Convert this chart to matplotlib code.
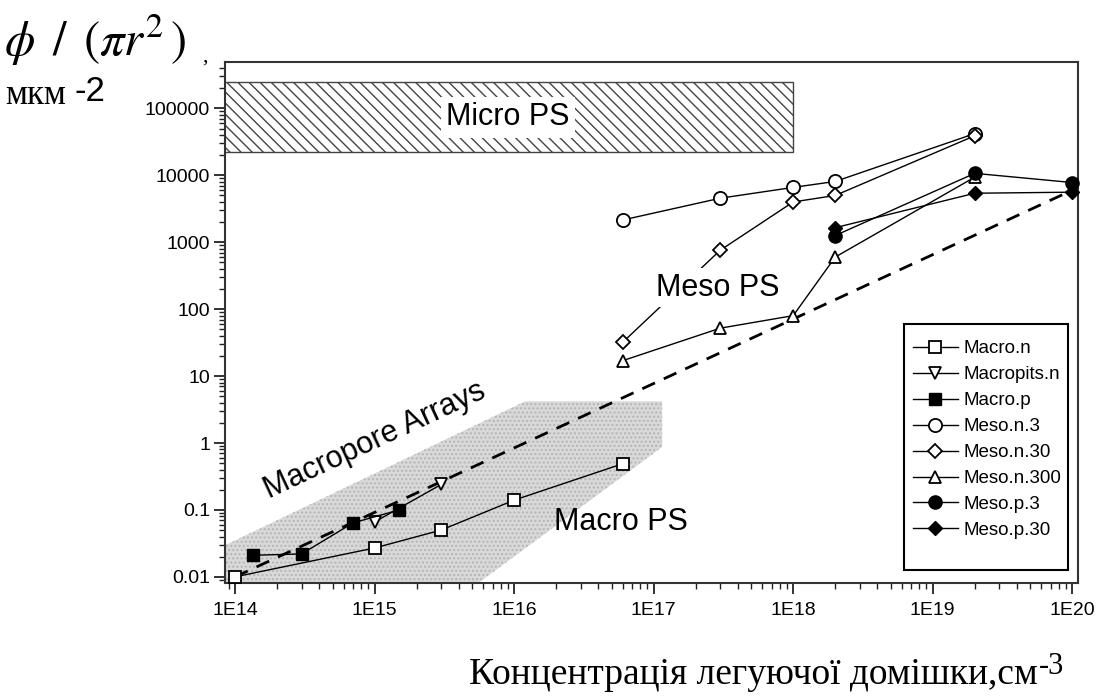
import matplotlib
matplotlib.use('Agg')
import matplotlib.pyplot as plt
from matplotlib.patches import Polygon, Rectangle
from matplotlib.ticker import FixedLocator, FixedFormatter, LogLocator, NullFormatter

plt.rcParams['font.family'] = ['Liberation Sans', 'DejaVu Sans']
plt.rcParams['mathtext.fontset'] = 'stix'
plt.rcParams['hatch.linewidth'] = 1.0

# pore density (um^-2) against doping concentration (cm^-3)
macro_n_x = [1e14, 1e15, 3e15, 1e16, 6e16]
macro_n_y = [0.01, 0.027, 0.05, 0.14, 0.49]
macropits_n_x = [1e15, 3e15]
macropits_n_y = [0.066, 0.24]
macro_p_x = [1.35e14, 3e14, 7e14, 1.5e15]
macro_p_y = [0.021, 0.022, 0.064, 0.1]
meso_n3_x = [6e16, 3e17, 1e18, 2e18, 2e19]
meso_n3_y = [2150, 4550, 6600, 8100, 42000]
meso_n30_x = [6e16, 3e17, 1e18, 2e18, 2e19]
meso_n30_y = [32, 760, 4000, 5000, 39000]
meso_n300_x = [6e16, 3e17, 1e18, 2e18, 2e19]
meso_n300_y = [17, 52, 80, 600, 9400]
meso_p3_x = [2e18, 2e19, 1e20]
meso_p3_y = [1260, 10700, 7800]
meso_p30_x = [2e18, 2e19, 1e20]
meso_p30_y = [1650, 5400, 5600]

# trend line and shaded regions
trend_x = [1e14, 1e20]
trend_y = [0.01, 6000]
band_x = [8e13, 1.2e16, 1.15e17, 1.15e17, 5.5e15, 8e13]
band_y = [0.028, 4.2, 4.2, 0.87, 0.008, 0.008]
micro_x = [8e13, 1e18]
micro_y = [2.2e4, 2.5e5]

x_ticks = [1e14, 1e15, 1e16, 1e17, 1e18, 1e19, 1e20]
x_labels = ['1E14', '1E15', '1E16', '1E17', '1E18', '1E19', '1E20']
y_ticks = [0.01, 0.1, 1, 10, 100, 1000, 10000, 100000]
y_labels = ['0.01', '0.1', '1', '10', '100', '1000', '10000', '100000']

fig = plt.figure(figsize=(11.04, 6.99), dpi=100)
ax = fig.add_axes([0.204, 0.166, 0.772, 0.745])
ax.set_xscale('log')
ax.set_yscale('log')
ax.set_xlim(8.5e13, 1.09e20)
ax.set_ylim(0.0081, 4.9e5)

ax.add_patch(Polygon(list(zip(band_x, band_y)), closed=True, facecolor='#d9d9d9',
                     edgecolor='#b5b5b5', hatch='....', linewidth=0, zorder=0))
ax.add_patch(Rectangle((micro_x[0], micro_y[0]), micro_x[1] - micro_x[0], micro_y[1] - micro_y[0],
                       facecolor='white', edgecolor='#444444', hatch='\\\\\\', linewidth=1.0, zorder=1))

ax.plot(trend_x, trend_y, color='black', lw=2.0, dashes=(5, 3.5), zorder=2)

ms = 9
open_kw = dict(color='black', lw=1.0, markerfacecolor='white', markeredgecolor='black',
               markeredgewidth=1.3, zorder=3)
fill_kw = dict(color='black', lw=1.0, markerfacecolor='black', markeredgecolor='black', zorder=3)
ax.plot(macro_n_x, macro_n_y, marker='s', ms=ms, label='Macro.n', **open_kw)
ax.plot(macropits_n_x, macropits_n_y, marker='v', ms=ms, label='Macropits.n', **open_kw)
ax.plot(macro_p_x, macro_p_y, marker='s', ms=ms, label='Macro.p', **fill_kw)
ax.plot(meso_n3_x, meso_n3_y, marker='o', ms=ms + 0.5, label='Meso.n.3', **open_kw)
ax.plot(meso_n30_x, meso_n30_y, marker='D', ms=7, label='Meso.n.30', **open_kw)
ax.plot(meso_n300_x, meso_n300_y, marker='^', ms=ms, label='Meso.n.300', **open_kw)
ax.plot(meso_p3_x, meso_p3_y, marker='o', ms=ms + 0.5, label='Meso.p.3', clip_on=False, **fill_kw)
ax.plot(meso_p30_x, meso_p30_y, marker='D', ms=7, label='Meso.p.30', clip_on=False, **fill_kw)

# region labels
ax.text(9e15, 7.4e4, 'Micro PS', fontsize=22, ha='center', va='center', zorder=4,
        bbox=dict(facecolor='white', edgecolor='none', pad=4))
ax.text(2.9e17, 210, 'Meso PS', fontsize=22, ha='center', va='center', zorder=4,
        bbox=dict(facecolor='white', edgecolor='none', pad=3))
ax.text(1e15, 1.1, 'Macropore Arrays', fontsize=22, ha='center', va='center',
        rotation=25, rotation_mode='anchor', zorder=4)
ax.text(5.8e16, 0.065, 'Macro PS', fontsize=22, ha='center', va='center', zorder=4)

ax.xaxis.set_major_locator(FixedLocator(x_ticks))
ax.xaxis.set_major_formatter(FixedFormatter(x_labels))
ax.yaxis.set_major_locator(FixedLocator(y_ticks))
ax.yaxis.set_major_formatter(FixedFormatter(y_labels))
ax.xaxis.set_minor_locator(LogLocator(base=10, subs=range(2, 10), numticks=20))
ax.yaxis.set_minor_locator(LogLocator(base=10, subs=range(2, 10), numticks=20))
ax.xaxis.set_minor_formatter(NullFormatter())
ax.yaxis.set_minor_formatter(NullFormatter())
ax.tick_params(which='major', direction='out', length=8, width=1.3, labelsize=14, color='#222222')
ax.tick_params(which='minor', direction='out', length=4, width=1.0, color='#222222')
ax.tick_params(axis='x', pad=6)
ax.tick_params(axis='y', pad=3)
for s in ax.spines.values():
    s.set_linewidth(1.5)
    s.set_color('#333333')

ax.legend(loc='upper left', bbox_to_anchor=(0.8066, 0.466), frameon=False, fontsize=13.5,
          handlelength=2.4, handletextpad=0.3, labelspacing=0.47, borderpad=0, borderaxespad=0)
ax.add_patch(Rectangle((0.797, 0.025), 0.192, 0.472, transform=ax.transAxes, fill=False,
                       edgecolor='black', linewidth=1.5, zorder=5))

# axis titles
serif = ['Liberation Serif', 'DejaVu Serif']
fig.text(0.004, 0.92, r'$\phi\ \,/\ \,(\pi r^{2}\,)$', fontsize=35, family=serif)
fig.text(0.183, 0.912, ',', fontsize=16, family=serif)
unit = fig.text(0.005, 0.851, 'мкм', fontsize=25, family=serif, va='baseline')
ax.annotate('-2', xy=(1, 0), xycoords=unit, xytext=(6, 8), textcoords='offset points',
            fontsize=25, va='baseline', ha='left')
xlab = fig.text(0.425, 0.022, 'Концентрація легуючої домішки,см', fontsize=27,
                family=serif, va='baseline')
ax.annotate('-3', xy=(1, 0), xycoords=xlab, xytext=(1, 13), textcoords='offset points',
            fontsize=22, family=serif, va='baseline', ha='left')

fig.savefig('out.png', dpi=100)
